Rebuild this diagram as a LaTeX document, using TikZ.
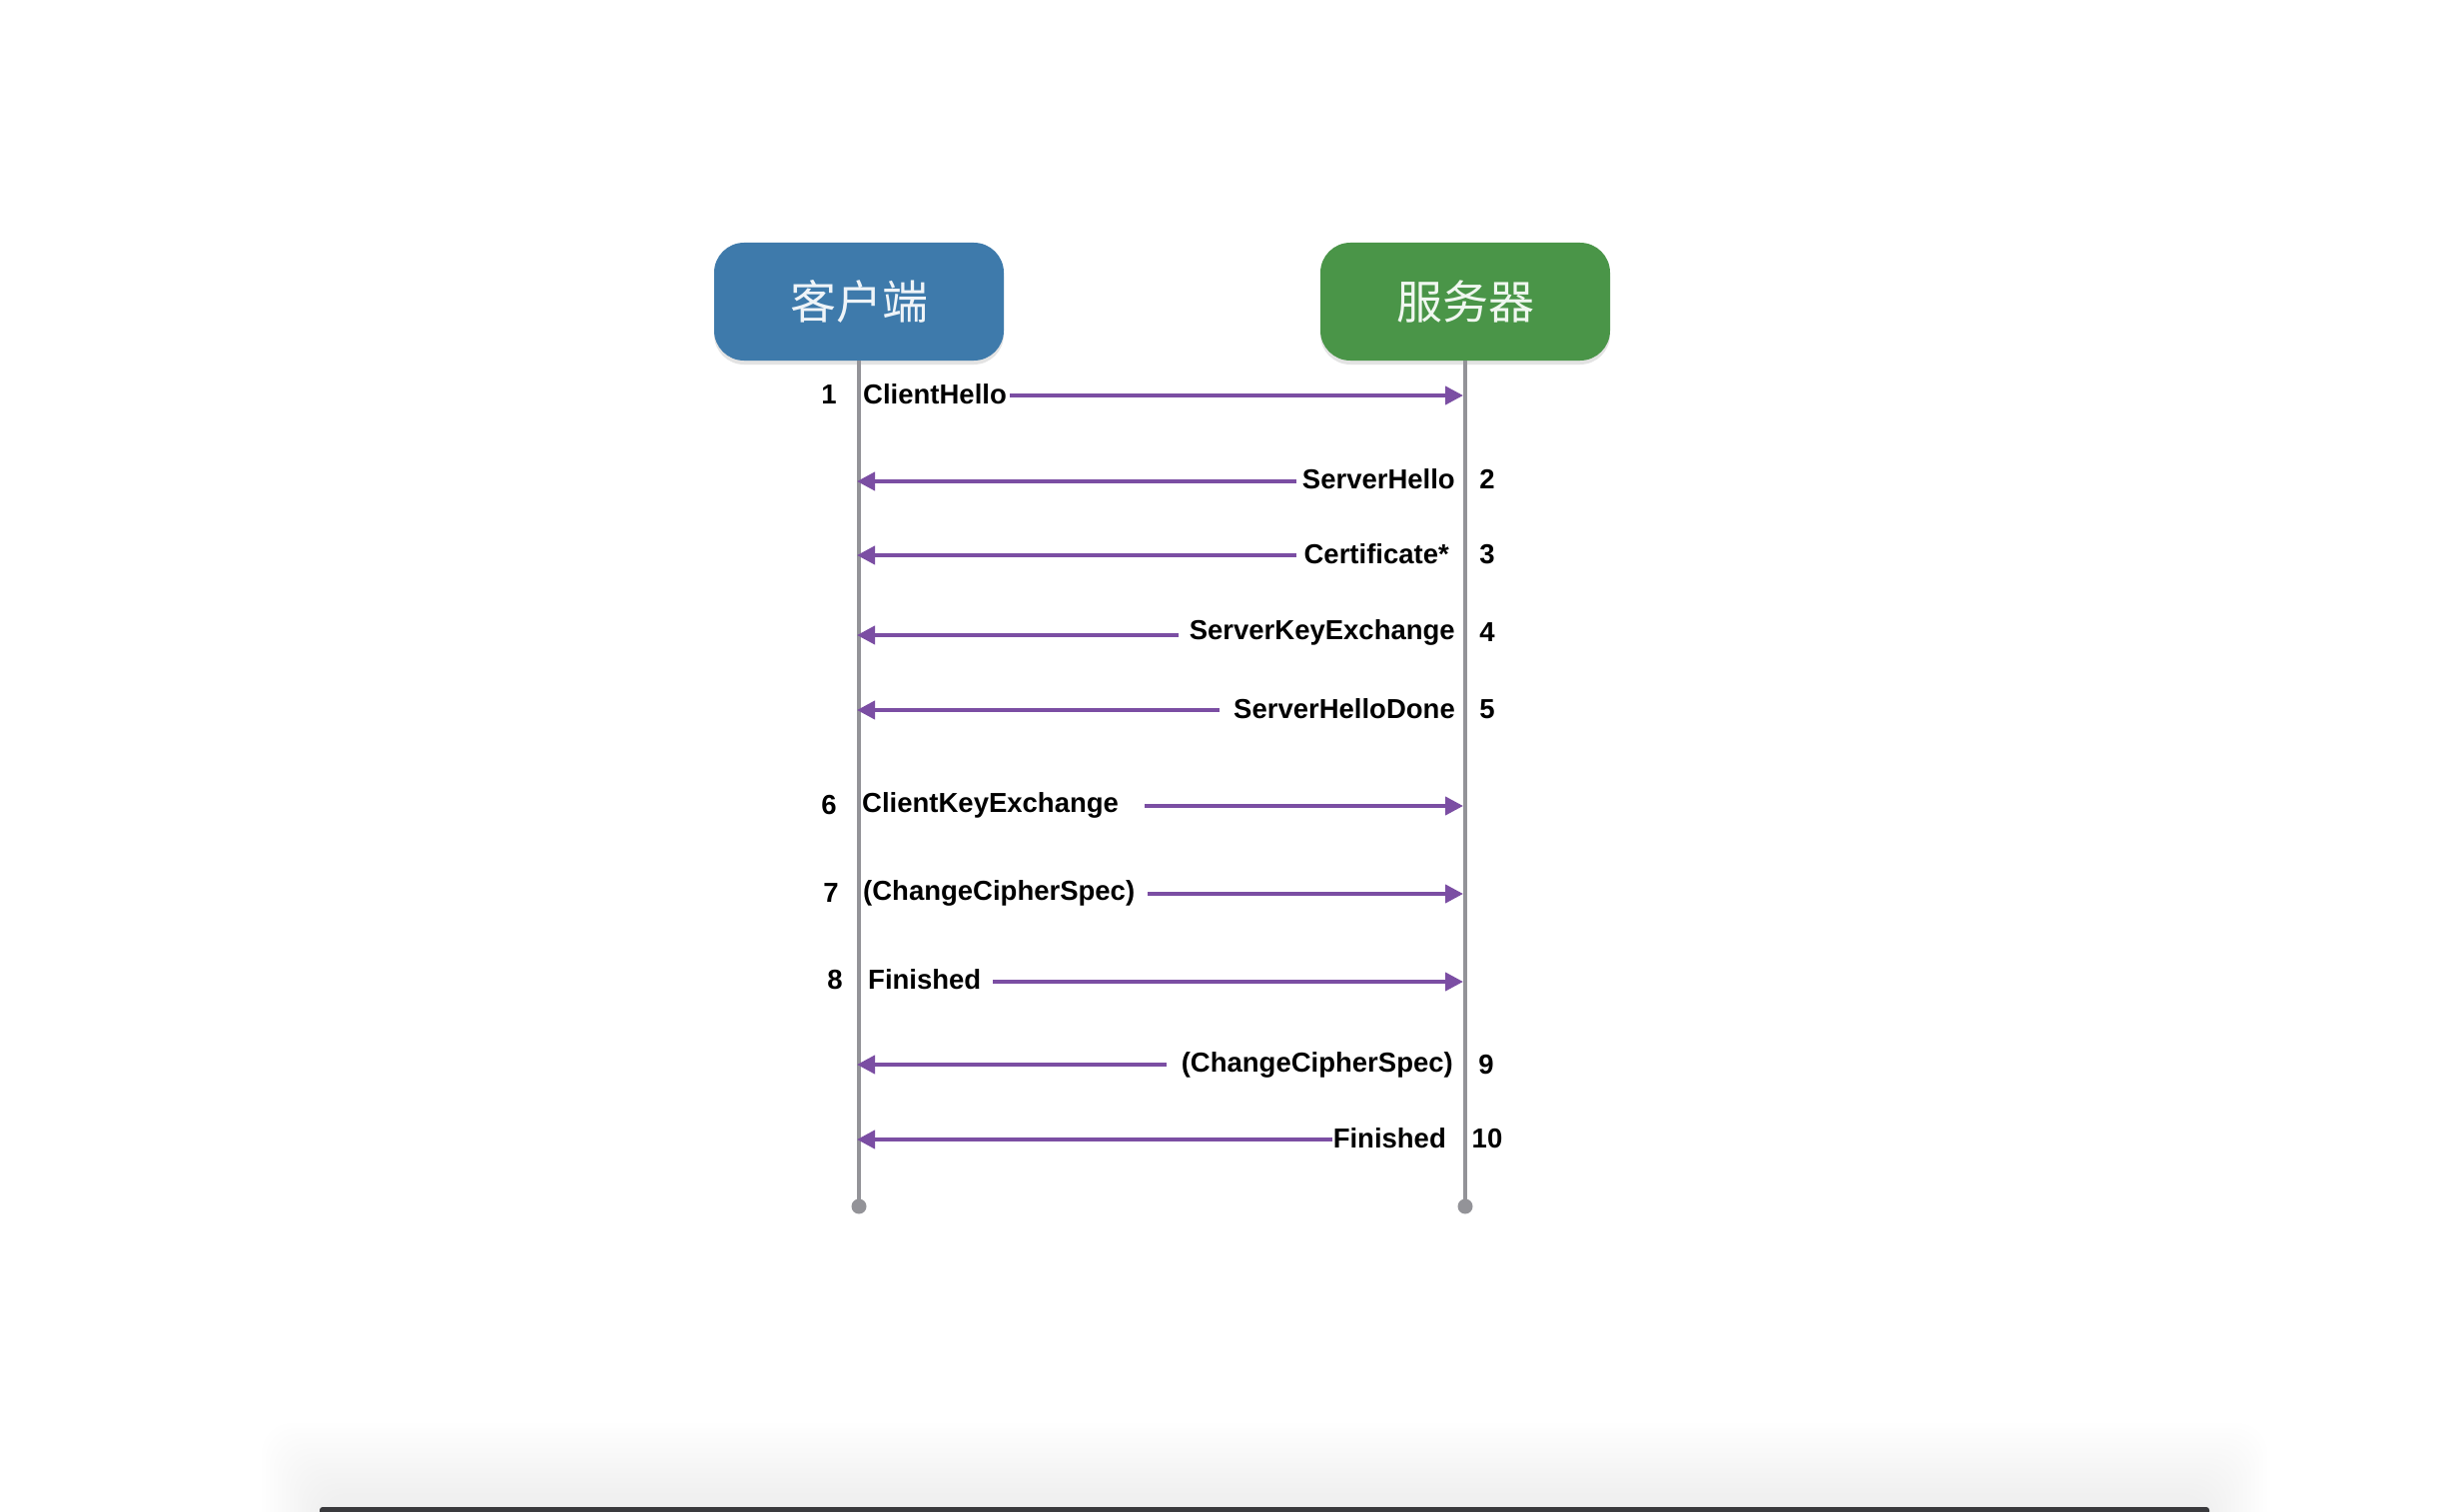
\documentclass[tikz,border=0pt]{standalone}
\usepackage{fontspec}
\setmainfont{Liberation Sans}
\newfontfamily\cjk{Noto Sans CJK SC}
\usetikzlibrary{arrows.meta,shadows}
\definecolor{boxblue}{HTML}{3E7AAB}
\definecolor{boxgreen}{HTML}{4A9548}
\definecolor{msgpurple}{HTML}{7B4EA3}
\definecolor{lifegray}{HTML}{939398}
\definecolor{bardark}{HTML}{3A3A3D}
\tikzset{
  actor/.style={rounded corners=30pt, minimum width=290pt, minimum height=118pt,
    inner sep=0pt, font=\cjk\fontsize{46}{50}\selectfont,
    drop shadow={opacity=0.22, shadow xshift=0pt, shadow yshift=-4pt}},
  lifeline/.style={draw=lifegray, line width=3.5pt},
  enddot/.style={circle, fill=lifegray, inner sep=0pt, minimum size=15pt},
  msg/.style={draw=msgpurple, line width=4pt, -{Triangle[length=18pt,width=18pt]}},
  lbl/.style={inner sep=0pt, font=\bfseries\fontsize{27.5}{32}\selectfont},
  num/.style={inner sep=0pt, font=\bfseries\fontsize{27.5}{32}\selectfont},
  winshadow/.style={fill=black, opacity=0.0045, rounded corners=30pt},
}
\begin{document}
\begin{tikzpicture}[x=1pt,y=-1pt]
\useasboundingbox (0,0) rectangle (2460,1514);
\fill[white] (0,0) rectangle (2460,1514);
% soft window shadow at the bottom
\foreach \i in {0,...,14}{
  \fill[winshadow] ({262+4*\i},{1425+5*\i}) rectangle ({2270-4*\i},1560);
}
\fill[bardark, rounded corners=3pt] (320,1509) rectangle (2212,1520);
% actors
\node[actor, fill=boxblue, text=white!92!boxblue] (client) at (860,302) {客户端};
\node[actor, fill=boxgreen, text=white!92!boxgreen] (server) at (1467,302) {服务器};
\node[enddot] (cend) at (860,1208) {};
\node[enddot] (send) at (1467,1208) {};
\draw[lifeline] (client.south) -- (cend.center);
\draw[lifeline] (server.south) -- (send.center);
% lifeline points
\foreach \n/\y in {1/396,2/482,3/556,4/636,5/711,6/807,7/895,8/983,9/1066,10/1141}{
  \coordinate (c\n) at (858,\y);
  \coordinate (s\n) at (1465,\y);
}
% client -> server messages
\node[lbl, anchor=west] (m1) at (864,395) {ClientHello};
\node[num] (n1) at (830,395) {1};
\coordinate (t1) at (1011,396);
\draw[msg] (t1) -- (s1);
\node[lbl, anchor=west] (m6) at (863,806) {ClientKeyExchange};
\node[num] (n6) at (830,806) {6};
\coordinate (t6) at (1146,807);
\draw[msg] (t6) -- (s6);
\node[lbl, anchor=west] (m7) at (864,894) {(ChangeCipherSpec)};
\node[num] (n7) at (832,894) {7};
\coordinate (t7) at (1149,895);
\draw[msg] (t7) -- (s7);
\node[lbl, anchor=west] (m8) at (869,981) {Finished};
\node[num] (n8) at (836,981) {8};
\coordinate (t8) at (994,983);
\draw[msg] (t8) -- (s8);
% server -> client messages
\node[lbl, anchor=east] (m2) at (1457,480) {ServerHello};
\node[num] (n2) at (1489,480) {2};
\coordinate (t2) at (1298,482);
\draw[msg] (t2) -- (c2);
\node[lbl, anchor=east] (m3) at (1451,555) {Certificate*};
\node[num] (n3) at (1489,555) {3};
\coordinate (t3) at (1298,556);
\draw[msg] (t3) -- (c3);
\node[lbl, anchor=east] (m4) at (1457,633) {ServerKeyExchange};
\node[num] (n4) at (1489,633) {4};
\coordinate (t4) at (1180,636);
\draw[msg] (t4) -- (c4);
\node[lbl, anchor=east] (m5) at (1457,710) {ServerHelloDone};
\node[num] (n5) at (1489,710) {5};
\coordinate (t5) at (1221,711);
\draw[msg] (t5) -- (c5);
\node[lbl, anchor=east] (m9) at (1455,1066) {(ChangeCipherSpec)};
\node[num] (n9) at (1488,1066) {9};
\coordinate (t9) at (1168,1066);
\draw[msg] (t9) -- (c9);
\node[lbl, anchor=east] (m10) at (1448,1140) {Finished};
\node[num] (n10) at (1489,1140) {10};
\coordinate (t10) at (1334,1141);
\draw[msg] (t10) -- (c10);
\end{tikzpicture}
\end{document}
